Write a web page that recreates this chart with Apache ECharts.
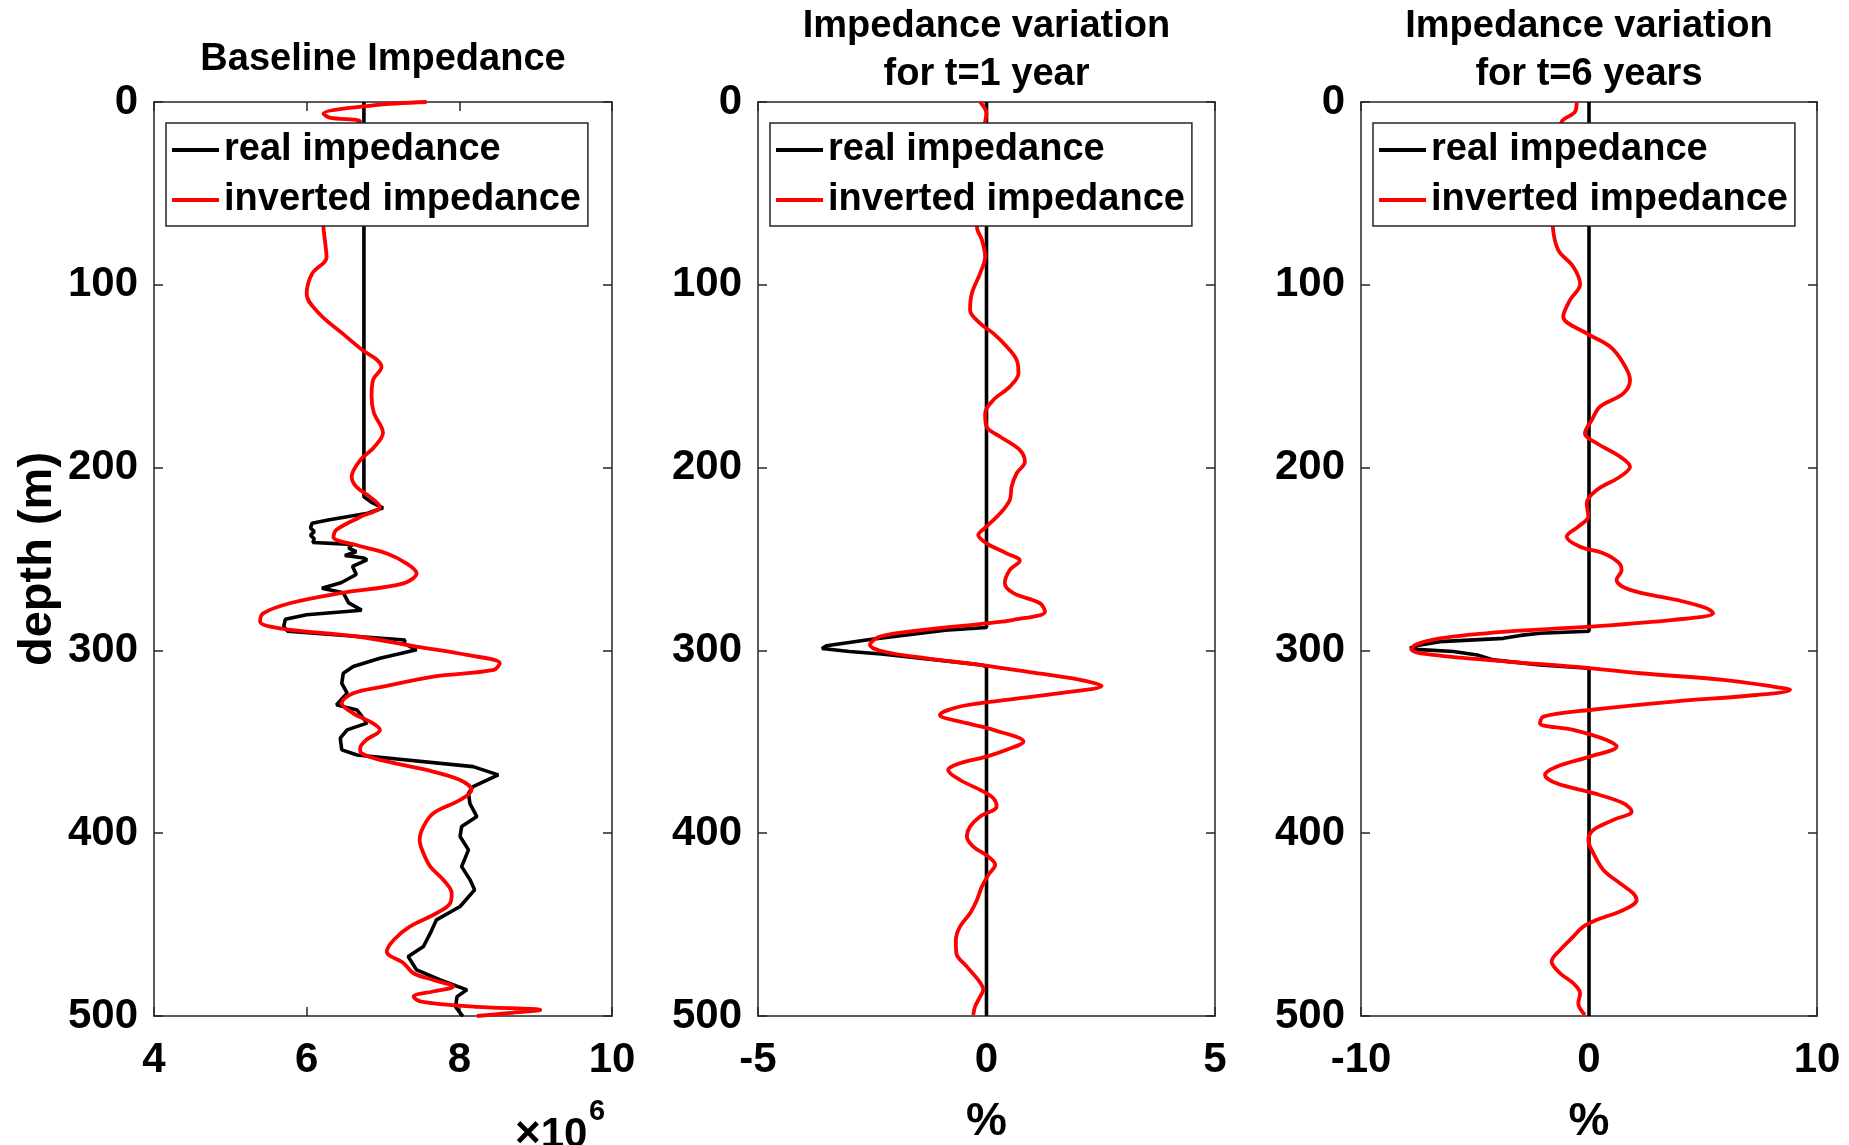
<!DOCTYPE html>
<html>
<head>
<meta charset="utf-8">
<title>Impedance profiles</title>
<script src="https://cdn.jsdelivr.net/npm/echarts@6/dist/echarts.min.js"></script>
<style>
    html, body {margin: 0; padding: 0; background: #fff;}
    #eCharts {width: 1849px; height: 1145px;}
</style>
</head>
<body>
<div id="eCharts"></div>
<script>
// data: [value, depth (m)]
var panelTitles = ['Baseline Impedance', 'Impedance variation\nfor t=1 year', 'Impedance variation\nfor t=6 years'];
var seriesNames = ['real impedance', 'inverted impedance'];
var xRanges = [[4, 10, 2], [-5, 5, 5], [-10, 10, 10]];   // min, max, interval
var depthRange = [0, 500, 100];
var xUnits = ['', '%', '%'];

// baseline impedance (x10^6)
var baseReal = [[6.75, 0], [6.75, 216], [6.85, 219], [7.0, 222], [6.8, 225], [6.3, 228.5], [6.07, 230.5], [6.05, 233], [6.1, 235], [6.05, 237],
    [6.1, 239], [6.08, 241], [6.6, 242], [6.55, 244], [6.65, 246], [6.5, 248], [6.75, 249.5], [6.79, 250.5], [6.6, 254], [6.65, 258.5],
    [6.45, 263], [6.2, 266], [6.48, 268.5], [6.55, 274], [6.72, 278], [6.0, 280.5], [5.72, 283], [5.7, 287], [5.75, 289.5], [7.29, 294.3],
    [7.27, 296], [7.44, 299.7], [6.96, 304.3], [6.61, 308.8], [6.48, 312.5], [6.46, 318], [6.53, 323.4], [6.39, 329.8], [6.66, 332.6],
    [6.79, 339.8], [6.53, 343.5], [6.44, 348], [6.46, 354.4], [6.66, 357.2], [8.18, 363.6], [8.51, 368.1], [8.18, 374.5], [8.12, 378.1],
    [8.14, 384], [8.23, 390.9], [8.03, 396.4], [8.01, 401.8], [8.12, 409.1], [8.03, 418.3], [8.14, 425.5], [8.2, 431], [8.01, 440.1],
    [7.7, 447.4], [7.62, 454.7], [7.53, 462], [7.33, 467.5], [7.44, 474.8], [7.75, 480.3], [8.1, 485.7], [7.97, 489.4], [7.95, 494.9],
    [8.03, 499.4], [8.05, 500]];
var baseInv = [[7.57, 0], [6.87, 1.8], [6.22, 6.4], [6.3, 8.5], [6.7, 10.6], [6.62, 14], [6.45, 30], [6.3, 50], [6.22, 68], [6.24, 76],
    [6.26, 85], [6.07, 94], [6.0, 105], [6.17, 116], [6.48, 127], [6.74, 136], [6.92, 141], [6.98, 145], [6.87, 152], [6.85, 161],
    [6.88, 170], [7.0, 181], [6.88, 189], [6.7, 196], [6.59, 205], [6.65, 210.5], [6.83, 216], [6.96, 221.5], [6.7, 227], [6.39, 234],
    [6.35, 238], [6.66, 242.5], [7.05, 247], [7.31, 252.5], [7.44, 257.8], [7.27, 263.3], [6.44, 268.7], [5.78, 274.2], [5.43, 279.7],
    [5.39, 284.2], [5.65, 287.9], [6.66, 292.4], [7.44, 297.9], [8.1, 302.5], [8.53, 307], [8.45, 310.7], [7.66, 314.3], [7.0, 319.8],
    [6.61, 323.4], [6.46, 328.9], [6.61, 334.4], [6.87, 339.9], [6.96, 343.5], [6.78, 349], [6.7, 353.5], [6.72, 356.3], [6.96, 359.9],
    [7.57, 365.4], [8.01, 370.9], [8.16, 376.3], [8.01, 381.8], [7.66, 389.1], [7.53, 396.4], [7.48, 403.7], [7.53, 411], [7.62, 418.3],
    [7.79, 425.5], [7.9, 432.8], [7.88, 438.3], [7.7, 443.8], [7.35, 451.1], [7.14, 458.4], [7.05, 464.8], [7.27, 471.1], [7.4, 476.6],
    [7.66, 480.3], [7.92, 483.9], [7.65, 486.6], [7.4, 489.4], [7.5, 492.1], [8.18, 494.9], [9.06, 496.7], [8.62, 498.5], [8.23, 500]];

// variation after 1 year (%)
var realT1 = [[0, 0], [0, 287.5], [-0.9, 289], [-2.55, 294], [-3.5, 297.5], [-3.6, 299], [-3.0, 300.6], [-2.3, 302], [-1.1, 305.2],
    [-0.1, 308], [0, 309], [0, 500]];
var invT1 = [[-0.14, 0], [-0.05, 3], [0.0, 6.2], [-0.03, 10.8], [-0.1, 20], [-0.18, 35], [-0.15, 50], [-0.21, 68.2], [-0.1, 75.5],
    [-0.03, 84.6], [-0.14, 93.7], [-0.32, 104.7], [-0.36, 113.8], [-0.14, 121.1], [0.15, 126.6], [0.44, 133.8], [0.66, 141.1],
    [0.7, 148.4], [0.51, 155.7], [0.15, 163], [-0.03, 170.3], [0.0, 177.6], [0.3, 183.1], [0.73, 190.4], [0.84, 196.8], [0.66, 203.1],
    [0.55, 210.4], [0.51, 217.7], [0.3, 225], [0.0, 232.3], [-0.18, 236.9], [0.0, 241.4], [0.44, 246.9], [0.73, 251], [0.51, 256],
    [0.4, 263.3], [0.59, 268.7], [1.17, 274.2], [1.28, 278.8], [0.59, 283.3], [0.0, 285.2], [-1.38, 288.8], [-2.33, 292.4], [-2.55, 297],
    [-2.26, 300.6], [-1.31, 304.3], [-0.14, 307.9], [0.88, 311.6], [2.05, 316.1], [2.52, 319.4], [1.61, 323.4], [0.44, 327.1],
    [-0.58, 330.7], [-1.02, 335.3], [-0.43, 339.8], [0.15, 343.5], [0.81, 349.9], [0.44, 354.4], [0.0, 358.1], [-0.58, 361.7],
    [-0.84, 365.4], [-0.58, 370.9], [-0.14, 376.3], [0.15, 380.9], [0.22, 385.4], [-0.14, 390.9], [-0.36, 396.4], [-0.43, 401.8],
    [-0.29, 407.3], [0.04, 412.8], [0.19, 417.3], [0.04, 422.8], [-0.1, 429.2], [-0.21, 436.5], [-0.36, 443.8], [-0.58, 451.1],
    [-0.67, 458.4], [-0.66, 465.7], [-0.43, 473], [-0.18, 480.3], [-0.07, 485.7], [-0.14, 489.4], [-0.25, 494.9], [-0.29, 499.4]];

// variation after 6 years (%)
var realT6 = [[0, 0], [0, 289.5], [-2.15, 290.6], [-3.0, 291.8], [-3.76, 293.4], [-6.54, 295.2], [-7.6, 297.5], [-7.85, 298.8],
    [-7.4, 299.6], [-5.95, 300.6], [-4.9, 302.5], [-4.2, 305.2], [-2.15, 307.9], [0, 309.8], [0, 500]];
var invT6 = [[-0.54, 0], [-0.61, 5.3], [-1.2, 10.8], [-1.5, 25], [-1.65, 45], [-1.59, 68.2], [-1.35, 81], [-0.69, 90.1], [-0.39, 99.7],
    [-0.83, 108.3], [-1.13, 117.4], [-0.1, 126.6], [0.92, 133.8], [1.51, 143], [1.8, 152.1], [1.51, 159.4], [0.48, 166.7], [0.12, 174],
    [-0.18, 181.3], [0.34, 186.7], [1.36, 194], [1.8, 199.5], [1.36, 205], [0.34, 212.3], [-0.1, 219.5], [-0.03, 226.8], [-0.47, 232.3],
    [-0.98, 237.8], [-0.39, 243.3], [0.63, 246.9], [1.3, 252], [1.43, 256], [1.21, 261.4], [1.8, 266.9], [3.85, 272.4], [5.16, 276.9],
    [5.45, 279.7], [3.7, 283.3], [0.04, 287], [-3.61, 289.7], [-6.54, 293.4], [-7.63, 297], [-7.78, 299.7], [-6.83, 302.5],
    [-3.61, 306.1], [-0.69, 308.9], [2.24, 312.5], [5.89, 316.1], [8.08, 319.8], [8.82, 321.6], [7.35, 324.4], [3.7, 328],
    [0.04, 332.6], [-2.0, 336.2], [-2.15, 339.9], [-0.69, 343.5], [0.77, 349], [1.21, 352.6], [0.04, 358.1], [-1.42, 363.6],
    [-1.93, 368.1], [-1.42, 372.7], [0.19, 378.1], [1.51, 383.6], [1.87, 388.2], [1.07, 392.7], [0.19, 398.2], [-0.03, 403.7],
    [0.19, 411], [0.63, 420.1], [1.36, 427.4], [1.94, 432.9], [2.09, 436.5], [1.51, 442], [0.34, 447.4], [-0.25, 451.1], [-0.69, 456.6],
    [-1.27, 463.9], [-1.64, 470.2], [-1.27, 476.6], [-0.69, 482.1], [-0.39, 487.6], [-0.47, 493], [-0.18, 499.4]];

var realData = [baseReal, realT1, realT6];
var invData = [baseInv, invT1, invT6];

// tiny helper instead of jQuery
var $ = {extend: function (a, b) { for (var k in b) { a[k] = b[k]; } return a; }};

var ImpedancePage = function () {
    var font = "'Liberation Sans', Arial, Helvetica, sans-serif";
    var axisColor = '#262626';
    var panels = [{left: 154, width: 458}, {left: 758, width: 457}, {left: 1361, width: 456}];
    var plotTop = 102, plotHeight = 914;

    var textStyle = function (size) {
        return {fontFamily: font, fontSize: size, fontWeight: 'bold', color: '#000'};
    };

    var init = function () {
        var myChart = echarts.init(document.getElementById('eCharts'));
        var grid = [], xAxis = [], yAxis = [], series = [], legend = [], title = [];

        panels.forEach(function (p, i) {
            var line = {show: true, onZero: false, lineStyle: {color: axisColor, width: 1.5}};
            var tick = {show: true, inside: true, length: 9, lineStyle: {color: axisColor, width: 1.5}};
            var r = xRanges[i];

            // keep the plot box fixed, labels may reach the page edge
            grid.push({left: p.left, top: plotTop, width: p.width, height: plotHeight, show: true,
                outerBoundsMode: 'none', containLabel: false,
                backgroundColor: '#fff', borderWidth: 0});

            xAxis.push({
                gridIndex: i, type: 'value', position: 'bottom', min: r[0], max: r[1], interval: r[2],
                name: xUnits[i], nameLocation: 'middle', nameGap: 83, nameTextStyle: textStyle(46),
                axisLine: line, axisTick: tick, splitLine: {show: false},
                axisLabel: $.extend(textStyle(42), {margin: 23, lineHeight: 42})
            });
            xAxis.push({
                gridIndex: i, type: 'value', position: 'top', min: r[0], max: r[1], interval: r[2],
                axisLine: line, axisTick: tick, splitLine: {show: false}, axisLabel: {show: false}
            });
            yAxis.push({
                gridIndex: i, type: 'value', position: 'left', inverse: true,
                min: depthRange[0], max: depthRange[1], interval: depthRange[2],
                name: i === 0 ? 'depth (m)' : '', nameLocation: 'middle', nameRotate: 90, nameGap: 92,
                nameTextStyle: textStyle(47),
                axisLine: line, axisTick: tick, splitLine: {show: false},
                axisLabel: $.extend(textStyle(42), {margin: 16})
            });
            yAxis.push({
                gridIndex: i, type: 'value', position: 'right', inverse: true,
                min: depthRange[0], max: depthRange[1], interval: depthRange[2],
                axisLine: line, axisTick: tick, splitLine: {show: false}, axisLabel: {show: false}
            });

            series.push({
                name: seriesNames[0], type: 'line', xAxisIndex: 2 * i, yAxisIndex: 2 * i,
                data: realData[i], showSymbol: false, symbol: 'none', silent: true,
                color: '#000', lineStyle: {color: '#000', width: 3.6}
            });
            series.push({
                name: seriesNames[1], type: 'line', xAxisIndex: 2 * i, yAxisIndex: 2 * i,
                data: invData[i], showSymbol: false, symbol: 'none', silent: true, smooth: 0.35,
                color: '#ff0000', lineStyle: {color: '#ff0000', width: 3.8}
            });

            legend.push({
                left: p.left + 12, top: 123, orient: 'vertical', data: seriesNames, selectedMode: false,
                icon: 'rect', itemWidth: 47, itemHeight: 4, itemGap: 4, padding: [4, 7, 3, 6],
                backgroundColor: '#fff', borderColor: axisColor, borderWidth: 1.5,
                textStyle: $.extend(textStyle(38), {lineHeight: 46})
            });

            title.push({
                text: panelTitles[i], left: p.left + p.width / 2, top: i === 0 ? 36 : 3,
                textAlign: 'center', padding: 0,
                textStyle: $.extend(textStyle(38), {lineHeight: 48})
            });
        });

        // x10^6 multiplier of the baseline axis
        title.push({
            text: '{n|\u00d7}10', left: 515, top: 1113, padding: 0,
            textStyle: $.extend(textStyle(42), {rich: {n: {fontFamily: font, fontSize: 44, color: '#000'}}})
        });
        title.push({text: '6', left: 589, top: 1097, padding: 0, textStyle: textStyle(29)});

        var option = {
            animation: false,
            backgroundColor: '#fff',
            title: title,
            legend: legend,
            grid: grid,
            xAxis: xAxis,
            yAxis: yAxis,
            series: series
        };
        myChart.setOption(option);
    };

    return {
        init: function () {
            init();
        }
    }
}();

ImpedancePage.init();
</script>
</body>
</html>
